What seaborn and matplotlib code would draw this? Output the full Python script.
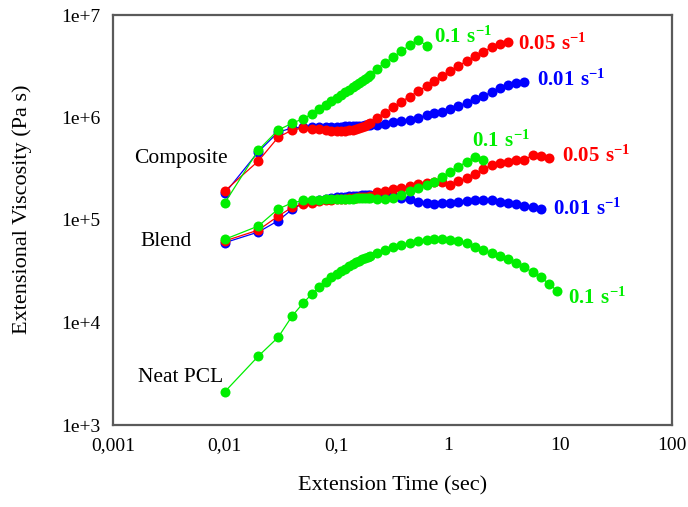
import matplotlib
matplotlib.use("Agg")
import matplotlib.pyplot as plt
import seaborn as sns
import pandas as pd

# Sampling times (s) shared by all extensional runs
TIME = [0.01, 0.02, 0.03, 0.04, 0.05, 0.06, 0.07, 0.08, 0.09, 0.10,
        0.11, 0.12, 0.13, 0.14, 0.15, 0.16, 0.17, 0.18, 0.19, 0.20,
        0.23, 0.27, 0.32, 0.38, 0.45, 0.54, 0.64, 0.75, 0.88, 1.03,
        1.23, 1.46, 1.73, 2.05, 2.44, 2.90, 3.43, 4.03, 4.78, 5.68,
        6.73, 7.94, 9.42]

# Composite
COMP_01 = [147000, 482000, 755000, 878000, 973000, 1.08e6, 1.20e6, 1.32e6, 1.45e6, 1.56e6,
           1.66e6, 1.77e6, 1.87e6, 1.97e6, 2.07e6, 2.17e6, 2.28e6, 2.38e6, 2.48e6, 2.60e6,
           3.0e6, 3.40e6, 3.89e6, 4.43e6, 5.06e6, 5.70e6, 5.02e6]
COMP_005 = [192000, 377000, 641000, 755000, 790000, 780000, 768000, 755000, 745000, 740000,
            742000, 746000, 752000, 760000, 772000, 788000, 808000, 832000, 860000, 890000,
            1.0e6, 1.11e6, 1.26e6, 1.43e6, 1.60e6, 1.81e6, 2.03e6, 2.29e6, 2.54e6, 2.86e6,
            3.18e6, 3.58e6, 3.98e6, 4.39e6, 4.84e6, 5.25e6, 5.45e6]
COMP_001 = [182000, 464000, 720000, 790000, 800000, 800000, 802000, 805000, 808000, 812000,
            815000, 818000, 821000, 824000, 827000, 830000, 833000, 836000, 839000, 842000,
            850000, 866000, 894000, 925000, 950000, 1.0e6, 1.05e6, 1.10e6, 1.14e6, 1.20e6,
            1.29e6, 1.40e6, 1.51e6, 1.62e6, 1.77e6, 1.93e6, 2.07e6, 2.19e6, 2.23e6]

# Blend
BLEND_01 = [64800, 87400, 128000, 147000, 155000, 157000, 158000, 159000, 160000, 160000,
            161000, 161000, 162000, 162000, 163000, 163000, 164000, 164000, 165000, 165000,
            161000, 160000, 163000, 175000, 192000, 204000, 219000, 236000, 264000, 296000,
            331000, 371000, 415000, 385000]
BLEND_005 = [62500, 79800, 109000, 133000, 143000, 148000, 152000, 156000, 158000, 160000,
             161000, 162000, 163000, 164000, 165000, 166000, 167000, 168000, 169000, 171000,
             186000, 192000, 199000, 207000, 215000, 223000, 228000, 235000, 236000, 219000,
             240000, 255000, 279000, 312000, 344000, 362000, 371000, 385000, 385000, 431000,
             421000, 400000]
BLEND_001 = [60100, 76400, 98400, 127000, 145000, 152000, 157000, 161000, 164000, 166000,
             168000, 169000, 170000, 171000, 172000, 173000, 174000, 175000, 175000, 176000,
             176000, 175000, 172000, 165000, 160000, 151000, 146000, 143000, 146000, 148000,
             151000, 153000, 157000, 157000, 155000, 151000, 148000, 143000, 137000, 133000,
             127000]

# Neat PCL
NEAT_01 = [2110, 4710, 7170, 11560, 15380, 18970, 22040, 25000, 27600, 29700,
           31600, 33400, 35200, 36900, 38500, 40000, 41400, 42700, 43900, 45000,
           47300, 50900, 54200, 56600, 60100, 62400, 63800, 64900, 64900, 63800,
           62400, 59300, 54900, 50900, 47300, 44600, 41400, 37800, 34600, 30900,
           27600, 23800, 20300]

X_TICKS = [0.001, 0.01, 0.1, 1, 10, 100]
X_TICK_LABELS = ["0,001", "0,01", "0,1", "1", "10", "100"]
Y_TICKS = [1e3, 1e4, 1e5, 1e6, 1e7]
Y_TICK_LABELS = ["1e+3", "1e+4", "1e+5", "1e+6", "1e+7"]

BLUE, RED, GREEN = "#0000FF", "#FF0000", "#00EE00"

sns.set_style("white")
plt.rcParams["font.family"] = ["Liberation Serif", "DejaVu Serif"]
plt.rcParams["text.color"] = "black"
plt.rcParams["axes.labelcolor"] = "black"
plt.rcParams["xtick.color"] = "black"
plt.rcParams["ytick.color"] = "black"
plt.rcParams["mathtext.fontset"] = "custom"
plt.rcParams["mathtext.rm"] = "Liberation Serif"
plt.rcParams["mathtext.bf"] = "Liberation Serif:bold"

fig = plt.figure(figsize=(6.88, 5.07), dpi=100)
ax = fig.add_axes([113 / 688, 1 - 425 / 507, 559 / 688, 410 / 507])

series = [
    (COMP_001, BLUE), (COMP_005, RED), (COMP_01, GREEN),
    (BLEND_001, BLUE), (BLEND_005, RED), (BLEND_01, GREEN),
    (NEAT_01, GREEN),
]
for vals, col in series:
    df = pd.DataFrame({"t": TIME[:len(vals)], "eta": vals})
    sns.lineplot(data=df, x="t", y="eta", ax=ax, color=col, marker="o",
                 markersize=7.2, markeredgewidth=0, linewidth=0.9,
                 sort=False, estimator=None)

ax.set_xscale("log")
ax.set_yscale("log")
ax.set_xlim(0.001, 100)
ax.set_ylim(1e3, 1e7)
ax.set_xticks(X_TICKS)
ax.set_xticklabels(X_TICK_LABELS)
ax.set_yticks(Y_TICKS)
ax.set_yticklabels(Y_TICK_LABELS)
ax.minorticks_off()
ax.tick_params(axis="both", which="major", direction="out", length=5, width=1.2,
               color="#555555", labelcolor="black", labelsize=14, pad=4)
for s in ax.spines.values():
    s.set_color("#5a5a5a")
    s.set_linewidth(1.6)

ax.set_xlabel("Extension Time (sec)", fontsize=16, color="black")
ax.set_ylabel("Extensional Viscosity (Pa s)", fontsize=16, color="black")
ax.xaxis.set_label_coords(0.5, -0.125)
ax.yaxis.set_label_coords(-0.145, 0.527)


def px(x, y):
    return (x - 113) / 559, (425 - y) / 410


# Material labels
for txt, (x, y) in [("Composite", (134, 158)), ("Blend", (140, 241)), ("Neat PCL", (138, 377))]:
    ax.text(*px(x, y), txt, transform=ax.transAxes, fontsize=15.5, color="black",
            ha="left", va="center")

# Strain-rate labels
rate_labels = [
    ("0.1", GREEN, 434, 43),
    ("0.05", RED, 518, 50),
    ("0.01", BLUE, 537, 86),
    ("0.1", GREEN, 472, 147),
    ("0.05", RED, 562, 162),
    ("0.01", BLUE, 553, 215),
    ("0.1", GREEN, 568, 304),
]
for rate, col, x, y in rate_labels:
    ax.text(*px(x, y), r"$\mathbf{" + rate + r"\ s^{-1}}$", transform=ax.transAxes,
            fontsize=15, color=col, ha="left", va="baseline")

fig.savefig("out.png", dpi=100)
